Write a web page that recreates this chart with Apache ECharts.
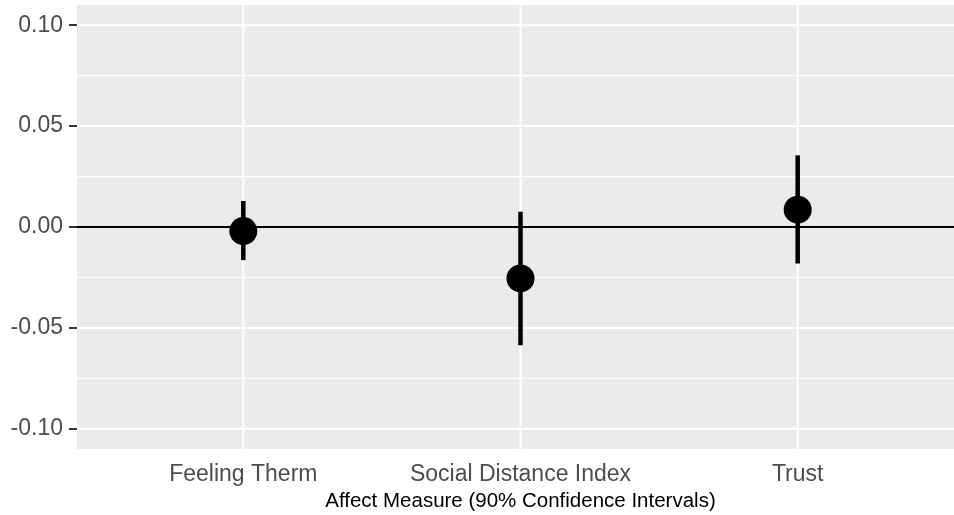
<!DOCTYPE html>
<html>
<head>
<meta charset="utf-8">
<script src="https://cdn.jsdelivr.net/npm/echarts@6/dist/echarts.min.js"></script>
<style>
html,body{margin:0;padding:0;background:#fff;}
#c{width:954px;height:515px;}
</style>
</head>
<body>
<div id="c"></div>
<script>
const categories = ['Feeling Therm', 'Social Distance Index', 'Trust'];
const estimates = [-0.002, -0.0255, 0.0086];
const lower = [-0.0164, -0.0586, -0.0181];
const upper = [0.0129, 0.0075, 0.0355];
const yTicks = [-0.10, -0.05, 0.00, 0.05, 0.10];
const yMinor = [-0.075, -0.025, 0.025, 0.075];
const xTitle = 'Affect Measure (90% Confidence Intervals)';

const xPos = categories.map((c, i) => i + 1);
const chart = echarts.init(document.getElementById('c'), null, {renderer: 'canvas'});

const font = 'Liberation Sans, Arial, sans-serif';

// gridline items: [kind, value, width]
const gridItems = [
  ...yMinor.map(v => ['h', v, 1.2]),
  ...yTicks.map(v => ['h', v, 2]),
  ...xPos.map(v => ['v', v, 2])
];

function gridRender(params, api) {
  const cs = params.coordSys;
  const kind = gridItems[params.dataIndex][0];
  const w = gridItems[params.dataIndex][2];
  const val = api.value(1);
  let shape;
  if (kind === 'h') {
    const p = api.coord([1, val]);
    shape = {x1: cs.x, y1: p[1], x2: cs.x + cs.width, y2: p[1]};
  } else {
    const p = api.coord([val, 0]);
    shape = {x1: p[0], y1: cs.y, x2: p[0], y2: cs.y + cs.height};
  }
  return {type: 'line', shape: shape, style: {stroke: '#FFFFFF', lineWidth: w}, silent: true};
}

const option = {
  animation: false,
  backgroundColor: '#ffffff',
  grid: {
    left: 77, right: -10, top: 5, bottom: 66,
    show: true, backgroundColor: '#EBEBEB', borderWidth: 0,
    containLabel: false, outerBoundsMode: 'none'
  },
  xAxis: {
    type: 'value', min: 0.4, max: 3.6,
    axisLine: {show: false},
    splitLine: {show: false},
    axisTick: {show: true, customValues: xPos, length: 7, lineStyle: {color: '#333333', width: 2}},
    axisLabel: {
      customValues: xPos, margin: 14,
      formatter: v => categories[Math.round(v) - 1] || '',
      color: '#4D4D4D', fontSize: 23, fontFamily: font
    },
    name: xTitle, nameLocation: 'middle', nameGap: 42,
    nameTextStyle: {color: '#000000', fontSize: 20.5, fontFamily: font}
  },
  yAxis: {
    type: 'value', min: -0.11, max: 0.11,
    axisLine: {show: false},
    splitLine: {show: false},
    axisTick: {show: true, customValues: yTicks, length: 8, lineStyle: {color: '#333333', width: 2}},
    axisLabel: {
      customValues: yTicks, margin: 14,
      formatter: v => v.toFixed(2),
      color: '#4D4D4D', fontSize: 23, fontFamily: font
    }
  },
  series: [
    {
      type: 'custom', z: 1, silent: true,
      data: gridItems.map((g, i) => [i, g[1]]),
      renderItem: gridRender
    },
    {
      type: 'custom', z: 2, silent: true,
      data: [[0, 0]],
      renderItem: function (params, api) {
        const cs = params.coordSys;
        const p = api.coord([1, api.value(1)]);
        return {type: 'line', shape: {x1: cs.x, y1: p[1], x2: cs.x + cs.width, y2: p[1]},
                style: {stroke: '#000000', lineWidth: 2}};
      }
    },
    {
      type: 'custom', z: 3, silent: true,
      data: xPos.map((x, i) => [x, lower[i], upper[i]]),
      renderItem: function (params, api) {
        const p1 = api.coord([api.value(0), api.value(1)]);
        const p2 = api.coord([api.value(0), api.value(2)]);
        return {
          type: 'line',
          shape: {x1: p1[0], y1: p1[1], x2: p2[0], y2: p2[1]},
          style: {stroke: '#000000', lineWidth: 4.5, lineCap: 'butt'}
        };
      }
    },
    {
      type: 'scatter', z: 4, silent: true,
      data: xPos.map((x, i) => [x, estimates[i]]),
      symbol: 'circle', symbolSize: 28,
      itemStyle: {color: '#000000', opacity: 1}
    }
  ]
};
chart.setOption(option);
</script>
</body>
</html>
